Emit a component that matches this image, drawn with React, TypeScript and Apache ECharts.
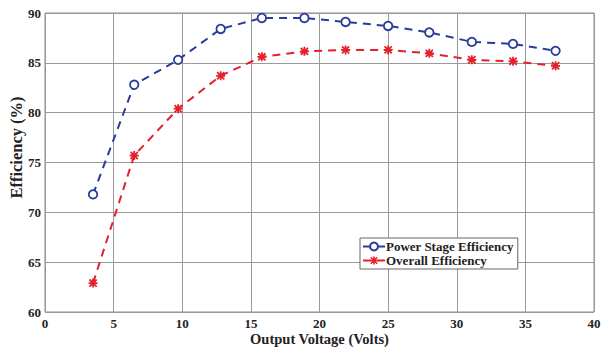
import React, { useEffect, useRef } from "react";
import * as echarts from "echarts";

const voltages = [3.5, 6.5, 9.7, 12.8, 15.8, 18.9, 21.9, 25.0, 28.0, 31.1, 34.1, 37.2];
const powerStage = [71.8, 82.8, 85.3, 88.4, 89.5, 89.5, 89.1, 88.7, 88.05, 87.1, 86.9, 86.2];
const overall = [62.9, 75.7, 80.4, 83.7, 85.6, 86.15, 86.3, 86.3, 85.95, 85.3, 85.15, 84.7];
const seriesNames = ["Power Stage Efficiency", "Overall Efficiency"];
const xTitle = "Output Voltage (Volts)";
const yTitle = "Efficiency (%)";

const asterisk =
  "path://M0 4L10 4L10 6L0 6Z M4 0L6 0L6 10L4 10Z M1.7 0.3L9.7 8.3L8.3 9.7L0.3 1.7Z M8.3 0.3L9.7 1.7L1.7 9.7L0.3 8.3Z";

const BLUE = "#2a3b9c";
const RED = "#e4202b";
const FONT = "Liberation Serif";

export default function App() {
  const ref = useRef<HTMLDivElement>(null);
  useEffect(() => {
    document.body.style.margin = "0";
    const chart = echarts.init(ref.current!, null, { renderer: "svg" });
    const pair = (ys: number[]) => voltages.map((x, i) => [x, ys[i]]);
    chart.setOption({
      animation: false,
      backgroundColor: "#fff",
      grid: {
        left: 45,
        right: 17,
        top: 13,
        bottom: 35,
        show: true,
        borderColor: "#8a8a8a",
        borderWidth: 1,
        containLabel: false,
        outerBoundsMode: "none",
      },
      xAxis: {
        type: "value",
        min: 0,
        max: 40,
        interval: 5,
        name: xTitle,
        nameLocation: "middle",
        nameGap: 19,
        nameMoveOverlap: false,
        nameTextStyle: { fontFamily: FONT, fontWeight: "bold", fontSize: 14.5, color: "#222" },
        axisLine: { show: false },
        axisTick: { show: false },
        axisLabel: { fontFamily: FONT, fontWeight: "bold", fontSize: 13, color: "#222", margin: 5 },
        splitLine: { show: true, lineStyle: { color: "#9a9a9a", width: 1 } },
      },
      yAxis: {
        type: "value",
        min: 60,
        max: 90,
        interval: 5,
        name: yTitle,
        nameLocation: "middle",
        nameGap: 20,
        nameMoveOverlap: false,
        nameTextStyle: {
          fontFamily: FONT,
          fontWeight: "bold",
          fontSize: 16.5,
          color: "#222",
          padding: [0, 0, 0, 30],
        },
        axisLine: { show: false },
        axisTick: { show: false },
        axisLabel: { fontFamily: FONT, fontWeight: "bold", fontSize: 13, color: "#222", margin: 4 },
        splitLine: { show: true, lineStyle: { color: "#9a9a9a", width: 1 } },
      },
      legend: {
        orient: "vertical",
        left: 360,
        top: 238,
        padding: [2, 4, 2, 2],
        itemGap: 1,
        itemWidth: 22,
        itemHeight: 10,
        backgroundColor: "#fff",
        borderColor: "#666",
        borderWidth: 1,
        borderRadius: 0,
        textStyle: { fontFamily: FONT, fontWeight: "bold", fontSize: 13, color: "#222", padding: [0, 0, 0, -4] },
        data: seriesNames,
      },
      series: [
        {
          name: seriesNames[0],
          type: "line",
          data: pair(powerStage),
          symbol: "circle",
          symbolSize: 8.5,
          itemStyle: { color: "#fff", borderColor: BLUE, borderWidth: 1.8 },
          lineStyle: { color: BLUE, width: 2, type: [8, 6] },
          z: 3,
        },
        {
          name: seriesNames[1],
          type: "line",
          data: pair(overall),
          symbol: asterisk,
          symbolSize: 9,
          itemStyle: { color: RED, borderWidth: 0 },
          lineStyle: { color: RED, width: 2, type: [8, 6] },
          z: 2,
        },
      ],
    });
    return () => chart.dispose();
  }, []);
  return <div ref={ref} style={{ width: 611, height: 347 }} />;
}
